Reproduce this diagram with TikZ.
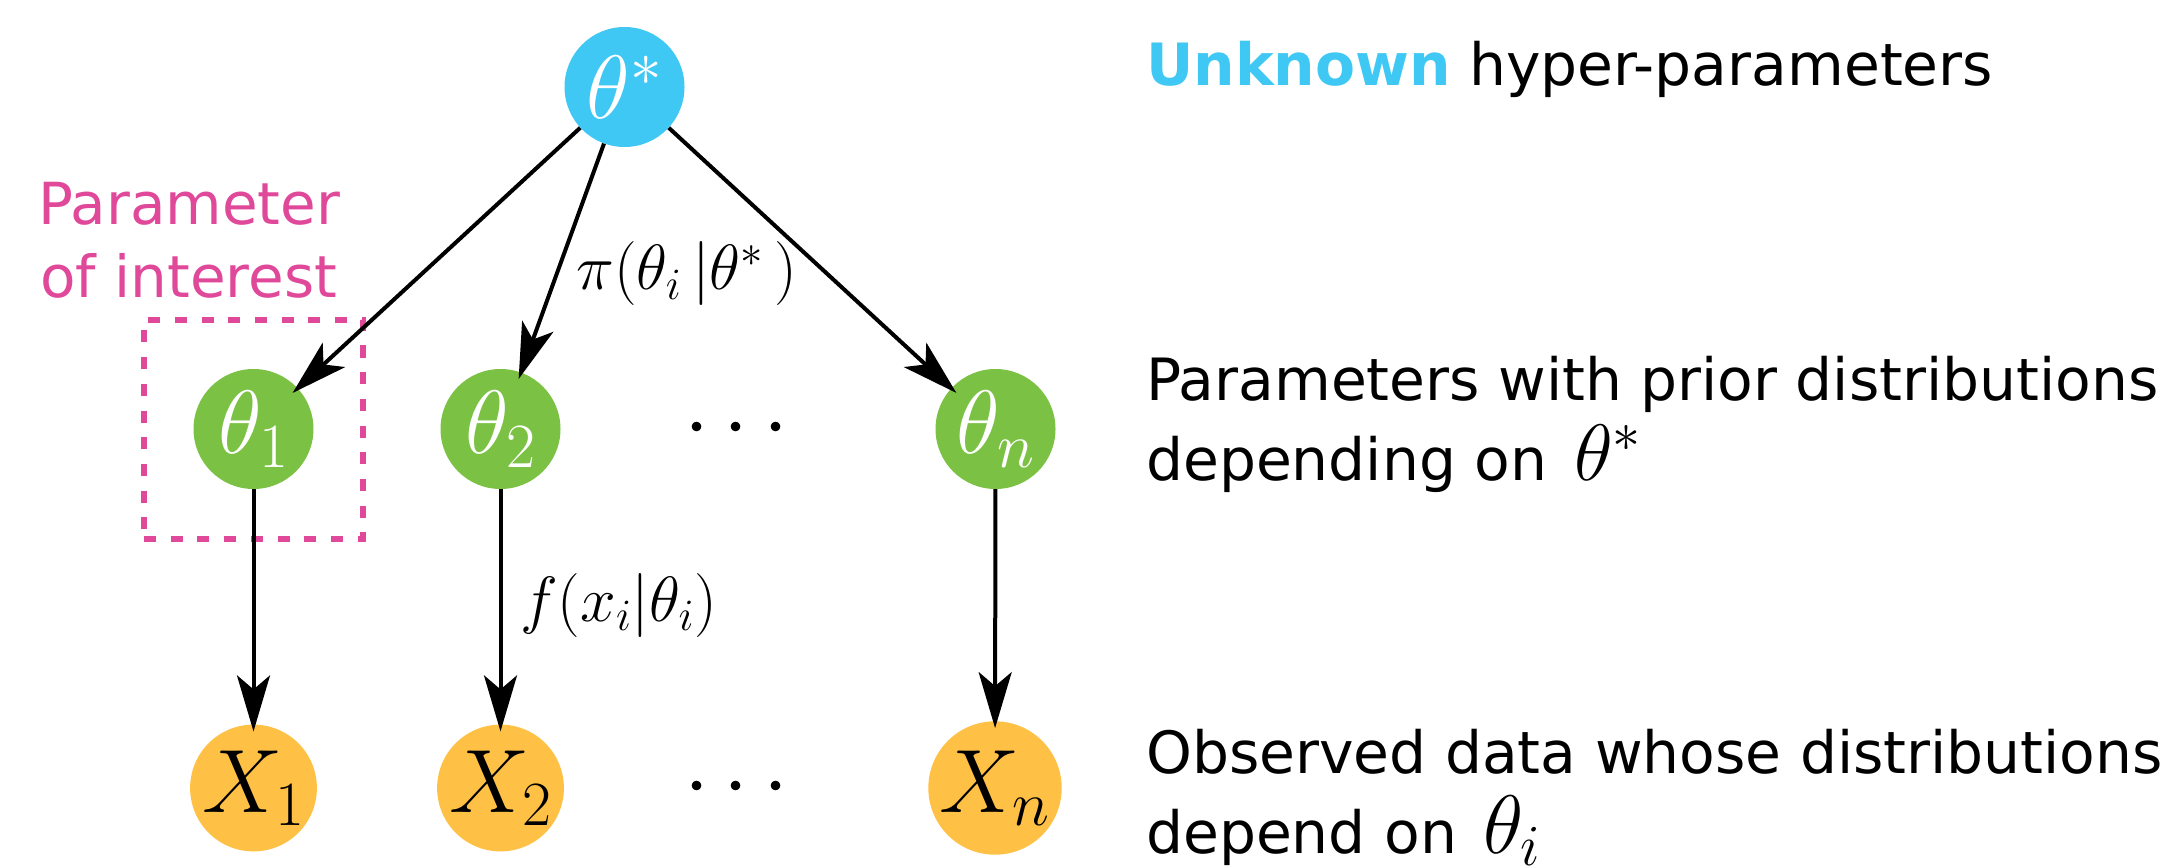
\RequirePackage{fix-cm}
\documentclass[tikz,border=0pt]{standalone}
\usepackage{fontspec}
\newfontfamily\dv{DejaVu Sans}
\usetikzlibrary{arrows.meta}
\definecolor{cblue}{RGB}{64,200,244}
\definecolor{cgreen}{RGB}{123,193,67}
\definecolor{corange}{RGB}{255,193,69}
\definecolor{cpink}{RGB}{224,72,154}
\tikzset{
  circ/.style={circle, inner sep=0pt, minimum size=120pt, text=white, font=\fontsize{90}{90}\selectfont},
  obs/.style={circle, inner sep=0pt, minimum size=125pt, fill=corange, text=black, font=\fontsize{90}{90}\selectfont},
  arr/.style={line width=4pt, -{Stealth[length=56pt, width=33pt, inset=14pt]}, shorten >=-7pt},
  lab/.style={font=\fontsize{64}{64}\selectfont, anchor=base west, inner sep=0pt},
  txt/.style={font=\dv\fontsize{58.3}{58.3}\selectfont, anchor=base west, inner sep=0pt},
  pinktxt/.style={font=\dv\fontsize{58}{58}\selectfont, anchor=base west, inner sep=0pt, text=cpink},
  dotsnode/.style={font=\fontsize{90}{90}\selectfont, inner sep=0pt},
}
\begin{document}
\begin{tikzpicture}[x=1pt,y=-1pt]
\useasboundingbox (0,0) rectangle (2165,866);
% nodes
\node[circ, fill=cblue] (ts) at (624.5,87) {$\theta^*$};
\node[circ, fill=cgreen] (t1) at (253.5,429) {$\theta_1$};
\node[circ, fill=cgreen] (t2) at (500.5,429) {$\theta_2$};
\node[circ, fill=cgreen] (tn) at (995.5,429) {$\theta_n$};
\node[obs] (x1) at (253.5,788) {$X_1$};
\node[obs] (x2) at (500.5,788) {$X_2$};
\node[obs] (xn) at (995,788) {$X_n$};
\node[dotsnode] (d1) at (736.5,429) {$\cdots$};
\node[dotsnode] (d2) at (736.5,788) {$\cdots$};
% dashed box
\node[draw=cpink, line width=6pt, dash pattern=on 12pt off 14.7pt, minimum width=219pt, minimum height=219pt, inner sep=0pt] (box) at (253.5,429.5) {};
% arrows
\draw[arr] (ts) -- (t1);
\draw[arr] (ts) -- (t2);
\draw[arr] (ts) -- (tn);
\draw[arr] (t1) -- (x1);
\draw[arr] (t2) -- (x2);
\draw[arr] (tn) -- (xn);
% edge labels
\node[lab] (lpi) at (576,290) {$\pi(\theta_i\,|\theta^*\mkern3mu)$};
\node[lab] (lf) at (520,621) {$f(x_i|\theta_i)$};
% pink label
\node[pinktxt] (p1) at (38,225) {Parameter};
\node[pinktxt] (p2) at (40,298) {of interest};
% right texts
\node[txt] (r1) at (1146,86) {{\bfseries\color{cblue}Unknown} hyper-parameters};
\node[txt] (r2) at (1146,400.5) {Parameters with prior distributions};
\node[txt] (r3) at (1146,480.5) {depending on\hspace{27pt}{\fontsize{80}{80}\selectfont$\theta^*$}};
\node[txt] (r4) at (1146,773) {Observed data whose distributions};
\node[txt] (r5) at (1146,853) {depend on\hspace{26pt}{\fontsize{83}{83}\selectfont$\theta_i$}};
\end{tikzpicture}
\end{document}
